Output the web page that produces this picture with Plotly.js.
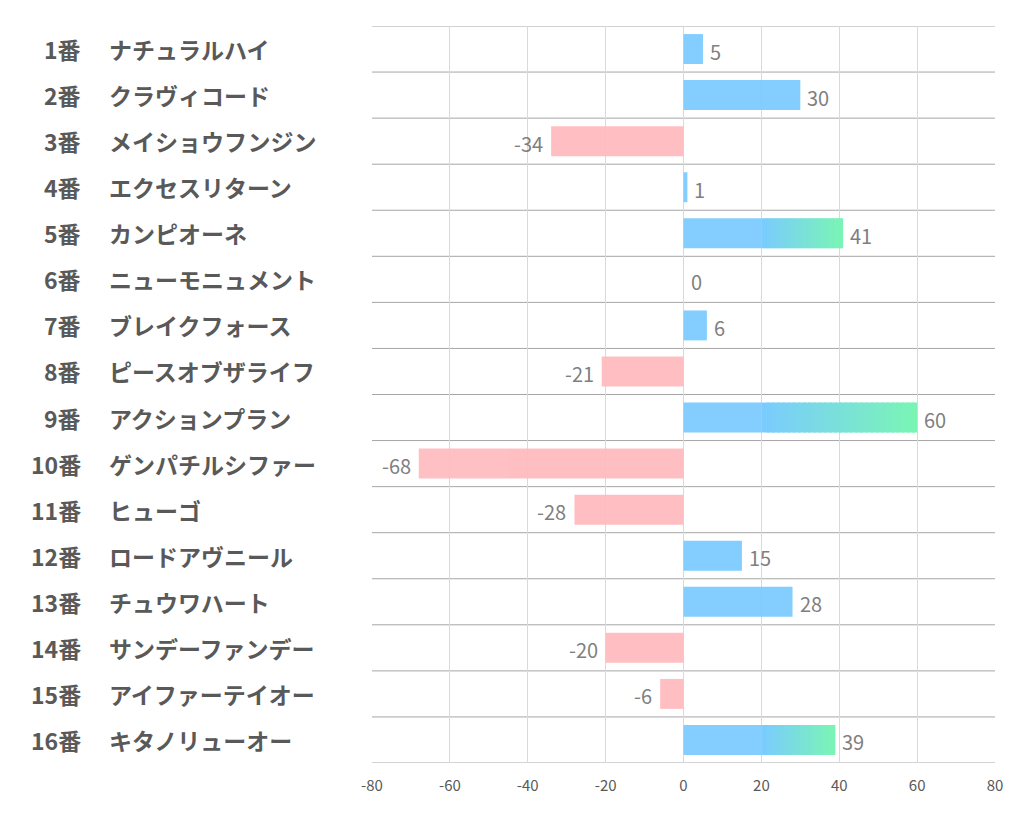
<!DOCTYPE html>
<html>
<head>
<meta charset="utf-8">
<script src="https://cdn.plot.ly/plotly-3.0.1.min.js"></script>
<style>
  body { margin: 0; background: #fff; }
  #chart { width: 1022px; height: 834px; }
</style>
</head>
<body>
<div id="chart"></div>
<script>
// horse numbers, names and score per horse (top to bottom)
var numbers = ['1番','2番','3番','4番','5番','6番','7番','8番','9番','10番','11番','12番','13番','14番','15番','16番'];
var names = ['ナチュラルハイ','クラヴィコード','メイショウフンジン','エクセスリターン','カンピオーネ','ニューモニュメント',
  'ブレイクフォース','ピースオブザライフ','アクションプラン','ゲンパチルシファー','ヒューゴ','ロードアヴニール',
  'チュウワハート','サンデーファンデー','アイファーテイオー','キタノリューオー'];
var scores = [5, 30, -34, 1, 41, 0, 6, -21, 60, -68, -28, 15, 28, -20, -6, 39];

var xTicks = [-80, -60, -40, -20, 0, 20, 40, 60, 80];

// bars above this get a blue -> green fade starting at gradFrom
var gradOver = 35;
var gradFrom = 20;
var nSlices = 30;

var blue = [122, 203, 255];
var green = [122, 245, 180];
var pink = 'rgb(255,187,190)';

function rgb(c) {
    return 'rgb(' + c.map(Math.round).join(',') + ')';
}

var cats = numbers; // category keys for the y axis

// plain part of every bar
var plainX = scores.map(function (v) { return v > gradOver ? gradFrom : v; });
var plainColors = scores.map(function (v) { return v < 0 ? pink : rgb(blue); });

var traces = [{
    type: 'bar',
    orientation: 'h',
    y: cats,
    x: plainX,
    width: 0.65,
    opacity: 0.93,
    marker: { color: plainColors, line: { width: 0 } },
    hoverinfo: 'skip'
}];

// faded part, split into thin slices
var gCats = [], gVals = [];
scores.forEach(function (v, i) {
    if (v > gradOver) { gCats.push(cats[i]); gVals.push(v); }
});
for (var k = 0; k < nSlices; k++) {
    var t = (k + 0.5) / nSlices;
    var col = blue.map(function (b, j) { return b + (green[j] - b) * t; });
    var last = k === nSlices - 1;
    traces.push({
        type: 'bar',
        orientation: 'h',
        y: gCats,
        base: gVals.map(function (v) { return gradFrom + (v - gradFrom) * k / nSlices; }),
        x: gVals.map(function (v) { return (v - gradFrom) / nSlices * (last ? 1 : 1.6); }),
        width: 0.65,
        marker: { color: rgb(col), line: { width: 0 } },
        hoverinfo: 'skip'
    });
}

// row separators
var shapes = [];
for (var i = 0; i <= cats.length; i++) {
    shapes.push({
        type: 'line', xref: 'paper', yref: 'y',
        x0: 0, x1: 1, y0: i - 0.5, y1: i - 0.5,
        line: { color: '#a6a6a6', width: 1 },
        layer: 'below'
    });
}

var labelFont = { family: 'Noto Sans CJK JP, sans-serif', size: 23, color: '#595959', weight: 'bold' };
var valueFont = { family: 'Noto Sans CJK JP, Noto Sans, sans-serif', size: 20, color: '#7f7f7f' };
var annotations = [];
cats.forEach(function (c, i) {
    annotations.push({
        xref: 'paper', yref: 'y', x: -0.4639, y: c,
        xanchor: 'right', yanchor: 'middle', showarrow: false,
        text: '<b>' + numbers[i] + '</b>', font: labelFont
    });
    annotations.push({
        xref: 'paper', yref: 'y', x: -0.4254, y: c,
        xanchor: 'left', yanchor: 'middle', showarrow: false,
        text: '<b>' + names[i] + '</b>', font: labelFont
    });
    // value label next to the bar end
    var neg = scores[i] < 0;
    annotations.push({
        xref: 'x', yref: 'y', x: scores[i], y: c,
        xanchor: neg ? 'right' : 'left', yanchor: 'middle',
        xshift: neg ? -6 : 5, yshift: -2,
        showarrow: false,
        text: String(scores[i]), font: valueFont
    });
});

var layout = {
    width: 1022,
    height: 834,
    margin: { l: 372, r: 27, t: 26, b: 71 },
    paper_bgcolor: '#fff',
    plot_bgcolor: '#fff',
    barmode: 'overlay',
    showlegend: false,
    xaxis: {
        range: [-80, 80],
        tickvals: xTicks,
        ticktext: xTicks.map(String),
        showgrid: true,
        gridcolor: '#d9d9d9',
        gridwidth: 1,
        zeroline: true,
        zerolinecolor: '#d9d9d9',
        zerolinewidth: 1,
        showline: false,
        ticks: '',
        ticklabelstandoff: 12,
        tickfont: { family: 'Noto Sans CJK JP, sans-serif', size: 15, color: '#595959' },
        fixedrange: true
    },
    yaxis: {
        type: 'category',
        categoryorder: 'array',
        categoryarray: cats,
        range: [cats.length - 0.5, -0.5],
        showticklabels: false,
        showgrid: false,
        zeroline: false,
        ticks: '',
        fixedrange: true
    },
    shapes: shapes,
    annotations: annotations
};

Plotly.newPlot('chart', traces, layout, { displayModeBar: false, staticPlot: true });
</script>
</body>
</html>
